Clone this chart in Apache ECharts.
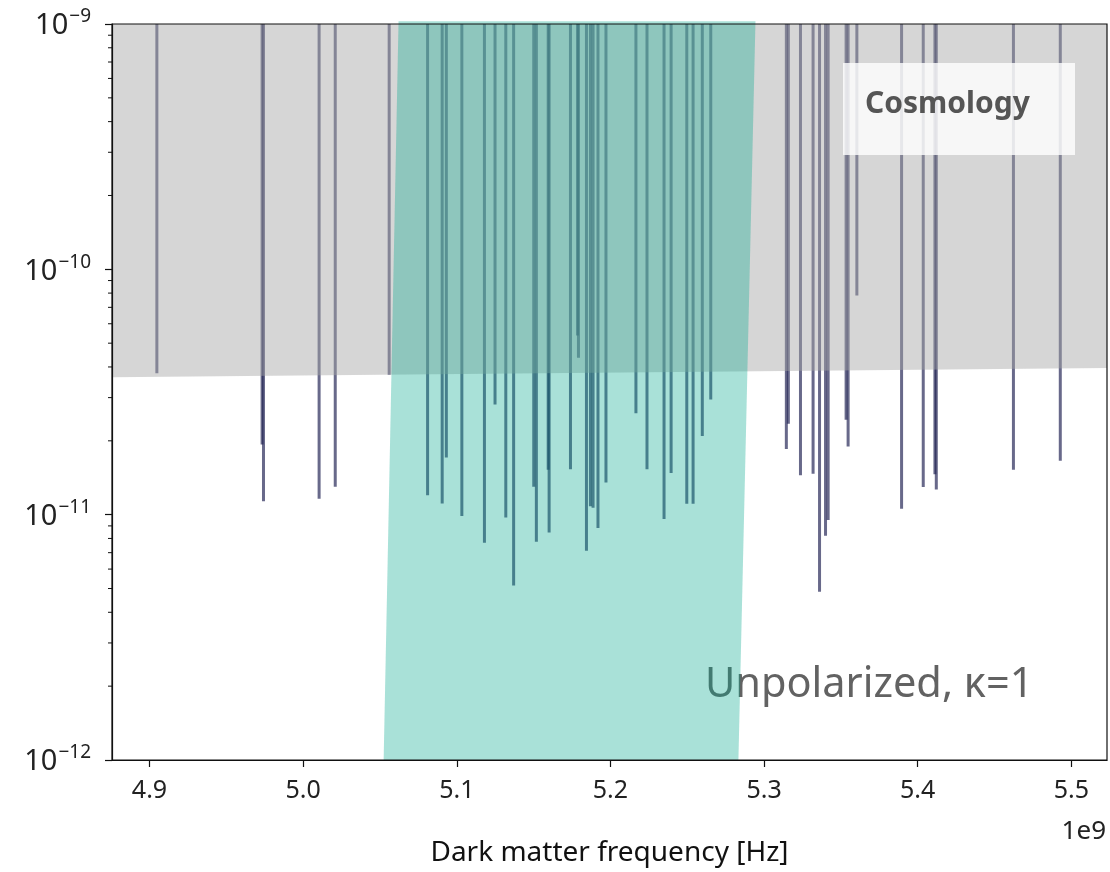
<!DOCTYPE html>
<html><head><meta charset="utf-8">
<script src="https://cdn.jsdelivr.net/npm/echarts@6/dist/echarts.min.js"></script>
<style>html,body{margin:0;padding:0;background:#fff}#c{width:1110px;height:872px}</style>
</head><body><div id="c"></div>
<script>
// Resonance lines: frequency (units of 1e9 Hz) and the limit where each line ends
const lineFreq = [4.9048, 4.9733, 4.9742, 5.0104, 5.0209, 5.0560, 5.0810, 5.0905, 5.0932, 5.1033,
  5.1180, 5.1249, 5.1319, 5.1370, 5.1501, 5.1518, 5.1595, 5.1601, 5.1740, 5.1786,
  5.1792, 5.1844, 5.1870, 5.1887, 5.1919, 5.1971, 5.2166, 5.2238, 5.2349, 5.2395,
  5.2497, 5.2538, 5.2598, 5.2653, 5.3145, 5.3158, 5.3237, 5.3319, 5.3361, 5.3400,
  5.3417, 5.3534, 5.3547, 5.3604, 5.3895, 5.4036, 5.4112, 5.4121, 5.4623, 5.4928];
const lineLimit = [3.77e-11, 1.93e-11, 1.135e-11, 1.16e-11, 1.30e-11, 3.72e-11, 1.20e-11, 1.11e-11, 1.71e-11, 9.87e-12,
  7.69e-12, 2.81e-11, 9.74e-12, 5.14e-12, 1.30e-11, 7.75e-12, 1.525e-11, 8.45e-12, 1.533e-11, 5.37e-11,
  4.36e-11, 7.13e-12, 1.083e-11, 1.068e-11, 8.83e-12, 1.354e-11, 2.59e-11, 1.533e-11, 9.60e-12, 1.477e-11,
  1.109e-11, 1.109e-11, 2.09e-11, 2.95e-11, 1.85e-11, 2.35e-11, 1.448e-11, 1.469e-11, 4.85e-12, 8.21e-12,
  9.51e-12, 2.44e-11, 1.894e-11, 7.83e-11, 1.057e-11, 1.297e-11, 1.46e-11, 1.266e-11, 1.525e-11, 1.658e-11];
const lineTop = 1e-9;

// Cosmology excluded region (lower boundary)
const cosmoFreq = [4.8756, 5.5232];
const cosmoLimit = [3.63e-11, 3.96e-11];
const cosmoTop = 1e-9;

// Unpolarized kappa=1 band (parallelogram)
const bandFreqTop = [5.0621, 5.2944];
const bandFreqBottom = [5.0524, 5.2833];
const bandTop = 1.025e-9;
const bandBottom = 1e-12;

const xRange = [4.8756, 5.5232];
const yRange = [1e-12, 1e-9];
const xTicks = [4.9, 5.0, 5.1, 5.2, 5.3, 5.4, 5.5];
const yMinorTicks = [2e-12, 3e-12, 4e-12, 5e-12, 6e-12, 7e-12, 8e-12, 9e-12,
  2e-11, 3e-11, 4e-11, 5e-11, 6e-11, 7e-11, 8e-11, 9e-11,
  2e-10, 3e-10, 4e-10, 5e-10, 6e-10, 7e-10, 8e-10, 9e-10];

const FONT = "'Noto Sans', 'Open Sans', sans-serif";
const chart = echarts.init(document.getElementById('c'));

chart.setOption({
  animation: false,
  backgroundColor: '#fff',
  grid: { left: 112, right: 3, top: 24, bottom: 106, show: true, borderColor: '#111', borderWidth: 1.2, z: 10, backgroundColor: 'transparent' },
  xAxis: {
    type: 'value', min: xRange[0], max: xRange[1], z: 11,
    name: 'Dark matter frequency [Hz]', nameLocation: 'middle', nameGap: 79,
    nameTextStyle: { fontFamily: FONT, fontSize: 28, color: '#111' },
    axisLine: { lineStyle: { color: '#111', width: 1.2 } },
    axisTick: { customValues: xTicks, length: 7, lineStyle: { color: '#111', width: 1.2 } },
    axisLabel: { customValues: xTicks, margin: 18, fontFamily: FONT, fontSize: 25, color: '#222',
      formatter: v => v.toFixed(1) },
    splitLine: { show: false }
  },
  yAxis: {
    type: 'log', logBase: 10, min: yRange[0], max: yRange[1], z: 11,
    axisLine: { show: true, lineStyle: { color: '#111', width: 1.2 } },
    axisTick: { show: true, length: 7, lineStyle: { color: '#111', width: 1.2 } },
    axisLabel: {
      margin: 21, color: '#222',
      formatter: v => '{b|10}{s|\u2212' + Math.round(-Math.log10(v)) + '}',
      rich: {
        b: { fontFamily: FONT, fontSize: 29, color: '#222', verticalAlign: 'bottom' },
        s: { fontFamily: FONT, fontSize: 19, color: '#222', verticalAlign: 'bottom', padding: [0, 0, 14, 1] }
      }
    },
    splitLine: { show: false }
  },
  graphic: [
    { type: 'text', z: 1, left: 705, top: 664,
      style: { text: 'Unpolarized, \u03ba=1', fill: '#626262', font: '41.5px ' + FONT } },
    { type: 'rect', z: 20, shape: { x: 843, y: 63, width: 232, height: 92 },
      style: { fill: 'rgba(255,255,255,0.8)' } },
    { type: 'text', z: 21, left: 865, top: 89,
      style: { text: 'Cosmology', fill: '#555', font: 'bold 30px ' + FONT } },
    { type: 'text', z: 21, right: 4, top: 819,
      style: { text: '1e9', fill: '#222', font: '26px ' + FONT } }
  ],
  series: [
    { // resonance lines
      type: 'custom', z: 2,
      data: lineFreq.map((f, i) => [f, lineLimit[i]]),
      renderItem: (params, api) => {
        const p0 = api.coord([api.value(0), api.value(1)]);
        const p1 = api.coord([api.value(0), lineTop]);
        return { type: 'line', shape: { x1: p0[0], y1: p0[1], x2: p1[0], y2: p1[1] },
          style: { stroke: 'rgba(32,34,82,0.68)', lineWidth: 3 } };
      }
    },
    { // cosmology region
      type: 'custom', z: 3,
      data: [[cosmoFreq[0], cosmoLimit[0]]],
      renderItem: (params, api) => {
        const pts = [
          api.coord([cosmoFreq[0], cosmoLimit[0]]),
          api.coord([cosmoFreq[1], cosmoLimit[1]]),
          api.coord([cosmoFreq[1], cosmoTop]),
          api.coord([cosmoFreq[0], cosmoTop])
        ];
        return { type: 'polygon', shape: { points: pts }, style: { fill: 'rgba(165,165,165,0.46)' } };
      }
    },
    { // unpolarized band
      type: 'custom', z: 4,
      data: [[bandFreqTop[0], bandTop]],
      renderItem: (params, api) => {
        const pts = [
          api.coord([bandFreqTop[0], bandTop]),
          api.coord([bandFreqTop[1], bandTop]),
          api.coord([bandFreqBottom[1], bandBottom]),
          api.coord([bandFreqBottom[0], bandBottom])
        ];
        return { type: 'polygon', shape: { points: pts }, style: { fill: 'rgba(10,168,142,0.35)' } };
      }
    },
    { // minor ticks on log axis
      type: 'custom', z: 12,
      data: yMinorTicks.map(v => [xRange[0], v]),
      renderItem: (params, api) => {
        const p = api.coord([xRange[0], api.value(1)]);
        return { type: 'line', shape: { x1: p[0] - 4, y1: p[1], x2: p[0], y2: p[1] },
          style: { stroke: '#111', lineWidth: 1 } };
      }
    }
  ]
});
</script>
</body></html>
